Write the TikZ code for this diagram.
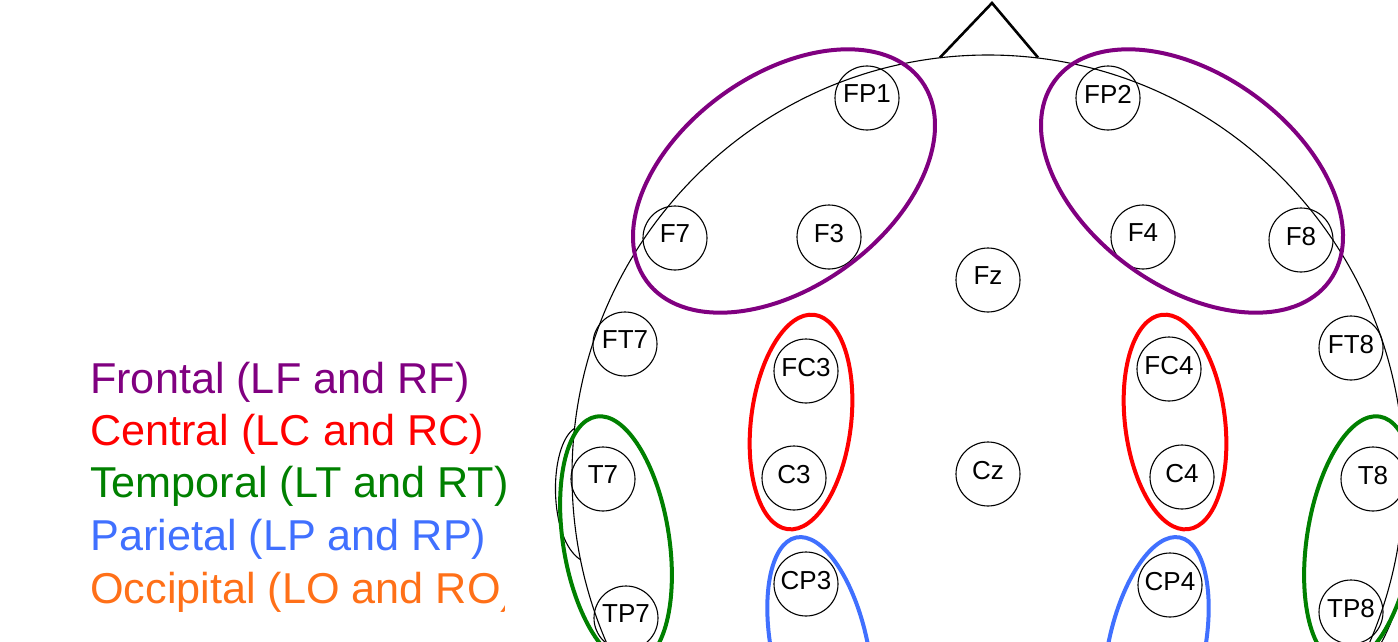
\documentclass[tikz,border=0pt]{standalone}
\usepackage{fontspec}
\setmainfont{Liberation Sans}
\definecolor{frontal}{RGB}{128,0,128}
\definecolor{central}{RGB}{255,0,0}
\definecolor{temporal}{RGB}{0,128,0}
\definecolor{parietal}{RGB}{64,112,255}
\definecolor{occipital}{RGB}{255,112,24}
% electrode label, lifted a little inside its circle
\newcommand\elab[1]{\raisebox{4pt}[\height][0pt]{#1}}
\begin{document}
\begin{tikzpicture}[x=1pt,y=-1pt,
  electrode/.style={circle, draw, line width=1.1pt, minimum size=64pt, inner sep=0pt,
    font=\fontsize{26}{30}\selectfont},
  region/.style={line width=4pt},
  outline/.style={line width=1.1pt},
  legendtext/.style={anchor=base west, inner sep=0pt, font=\fontsize{43.2}{50}\selectfont}]
\useasboundingbox (0,0) rectangle (1398,642);
\clip (0,0) rectangle (1398,642);

% head, nose and ears
\coordinate (head) at (988,475);
\draw[outline] (head) ellipse [x radius=416, y radius=420];
\coordinate (noseL) at (940,57.5);
\coordinate (noseTip) at (992,3);
\coordinate (noseR) at (1038,57.5);
\draw[line width=2.6pt, line join=miter] (noseL) -- (noseTip) -- (noseR);
\coordinate (earLtop) at (575,428);
\coordinate (earLbot) at (581,560);
\draw[outline] (earLtop) .. controls (548,445) and (548,540) .. (earLbot);
\coordinate (earRtop) at (1398,545);
\coordinate (earRbot) at (1366,668);
\draw[outline] (earRtop) .. controls (1412,580) and (1392,630) .. (earRbot);

% electrodes
\node[electrode] (FP1) at (867,98) {\elab{FP1}};
\node[electrode] (FP2) at (1108,98) {\elab{FP2}};
\node[electrode] (F7) at (675,238) {\elab{F7}};
\node[electrode] (F3) at (829,237) {\elab{F3}};
\node[electrode] (Fz) at (988,280) {\elab{Fz}};
\node[electrode] (F4) at (1143,237) {\elab{F4}};
\node[electrode] (F8) at (1301,240) {\elab{F8}};
\node[electrode] (FT7) at (625,344) {\elab{FT7}};
\node[electrode] (FC3) at (806,371) {\elab{FC3}};
\node[electrode] (FC4) at (1169,369) {\elab{FC4}};
\node[electrode] (FT8) at (1351,348) {\elab{FT8}};
\node[electrode] (T7) at (603,479) {\elab{T7}};
\node[electrode] (C3) at (794,478) {\elab{C3}};
\node[electrode] (Cz) at (988,474) {\elab{Cz}};
\node[electrode] (C4) at (1182,477) {\elab{C4}};
\node[electrode] (T8) at (1373,479) {\elab{T8}};
\node[electrode] (CP3) at (806,584) {\elab{CP3}};
\node[electrode] (CP4) at (1170,585) {\elab{CP4}};
\node[electrode] (TP7) at (626,618) {\elab{TP7}};
\node[electrode] (TP8) at (1351,612) {\elab{TP8}};

% regions
\coordinate (LF) at (784,181);
\coordinate (RF) at (1192,181);
\draw[region, frontal, rotate around={36:(LF)}] (LF) ellipse [x radius=170, y radius=106];
\draw[region, frontal, rotate around={-36:(RF)}] (RF) ellipse [x radius=170, y radius=106];
\coordinate (LC) at (801,422);
\coordinate (RC) at (1175,422);
\draw[region, central, rotate around={-7:(LC)}] (LC) ellipse [x radius=50, y radius=108];
\draw[region, central, rotate around={7:(RC)}] (RC) ellipse [x radius=50, y radius=108];
\coordinate (LT) at (616,540);
\coordinate (RT) at (1360,540);
\draw[region, temporal, rotate around={9:(LT)}] (LT) ellipse [x radius=53, y radius=125];
\draw[region, temporal, rotate around={-9:(RT)}] (RT) ellipse [x radius=53, y radius=125];
\coordinate (LP) at (820,650);
\coordinate (RP) at (1156,650);
\draw[region, parietal, rotate around={12:(LP)}] (LP) ellipse [x radius=48, y radius=115];
\draw[region, parietal, rotate around={-12:(RP)}] (RP) ellipse [x radius=48, y radius=115];

% legend
\node[legendtext, frontal] (lgF) at (90,393) {Frontal (LF and RF)};
\node[legendtext, central] (lgC) at (90,445) {Central (LC and RC)};
\node[legendtext, temporal] (lgT) at (90,497) {Temporal (LT and RT)};
\node[legendtext, parietal] (lgP) at (90,550) {Parietal (LP and RP)};
\begin{scope}
  \clip (0,560) -- (498,560) -- (498,601) -- (504,601) -- (504,614) -- (0,614) -- cycle;
  \node[legendtext, occipital] (lgO) at (90,603) {Occipital (LO and RO)};
\end{scope}
\end{tikzpicture}
\end{document}
